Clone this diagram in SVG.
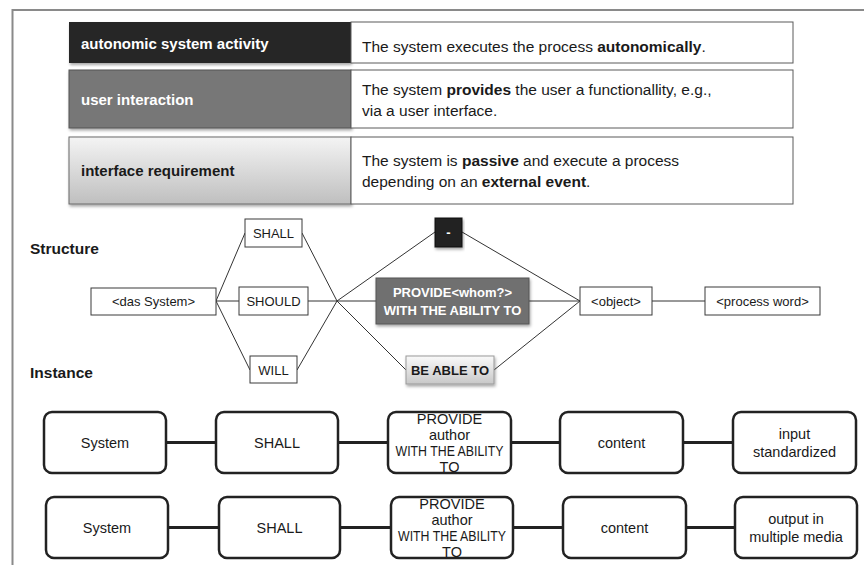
<svg xmlns="http://www.w3.org/2000/svg" width="864" height="565" viewBox="0 0 864 565">
<defs>
<linearGradient id="gLight" x1="0" y1="0" x2="0" y2="1">
<stop offset="0" stop-color="#f4f4f4"/><stop offset="1" stop-color="#bfbfbf"/>
</linearGradient>
<linearGradient id="gBtn" x1="0" y1="0" x2="0" y2="1">
<stop offset="0" stop-color="#fafafa"/><stop offset="1" stop-color="#c8c8c8"/>
</linearGradient>
<filter id="sh" x="-10%" y="-10%" width="120%" height="140%">
<feDropShadow dx="1" dy="2" stdDeviation="1.5" flood-color="#000" flood-opacity="0.35"/>
</filter>
</defs>
<style>
text{font-family:"Liberation Sans",Arial,sans-serif;fill:#1a1a1a}
.desc{font-size:15.5px}
.lab{font-size:15px;font-weight:bold}
.w{fill:#fff}
.cell{fill:#fff;stroke:#5a5a5a;stroke-width:1}
.sbox{fill:#fff;stroke:#3a3a3a;stroke-width:1}
.st{font-size:13px;text-anchor:middle}
.stb{font-size:13px;text-anchor:middle;font-weight:bold}
.hd{font-size:15.5px;font-weight:bold}
.ln{stroke:#333;stroke-width:1;fill:none}
.rb{fill:#fff;stroke:#222;stroke-width:2.5}
.bt{font-size:14.5px;text-anchor:middle}
.tk{stroke:#222;stroke-width:3;fill:none}
</style>
<path d="M12.5 565 V10 H864" fill="none" stroke="#8a8a8a" stroke-width="2"/>

<g id="table">
<g id="row-autonomic">
<rect x="69" y="22" width="282" height="41" fill="#262626" filter="url(#sh)"/>
<rect class="cell" x="351" y="22" width="442" height="41"/>
<text class="lab w" x="81" y="49">autonomic system activity</text>
<text class="desc" x="362" y="52">The system executes the process <tspan font-weight="bold">autonomically</tspan>.</text>
</g>
<g id="row-user">
<rect x="69" y="70" width="282" height="58" fill="#777" stroke="#555" filter="url(#sh)"/>
<rect class="cell" x="351" y="70" width="442" height="58"/>
<text class="lab w" x="81" y="105">user interaction</text>
<text class="desc" x="362" y="95">The system <tspan font-weight="bold">provides</tspan> the user a functionallity, e.g.,</text>
<text class="desc" x="362" y="116">via a user interface.</text>
</g>
<g id="row-interface">
<rect x="69" y="137" width="282" height="67" fill="url(#gLight)" stroke="#6a6a6a" filter="url(#sh)"/>
<rect class="cell" x="351" y="137" width="442" height="67"/>
<text class="lab" x="81" y="176">interface requirement</text>
<text class="desc" x="362" y="166">The system is <tspan font-weight="bold">passive</tspan> and execute a process</text>
<text class="desc" x="362" y="187">depending on an <tspan font-weight="bold">external event</tspan>.</text>
</g>
</g>

<text class="hd" x="30" y="254">Structure</text>
<text class="hd" x="30" y="378">Instance</text>

<g id="structure-connectors">
<line class="ln" x1="216" y1="301" x2="245" y2="233"/>
<line class="ln" x1="216" y1="301" x2="239" y2="301"/>
<line class="ln" x1="216" y1="301" x2="250" y2="370"/>
<line class="ln" x1="302" y1="233" x2="337" y2="301"/>
<line class="ln" x1="308" y1="301" x2="337" y2="301"/>
<line class="ln" x1="297" y1="370" x2="337" y2="301"/>
<line class="ln" x1="337" y1="301" x2="435" y2="232"/>
<line class="ln" x1="337" y1="301" x2="376" y2="301"/>
<line class="ln" x1="337" y1="301" x2="406" y2="370"/>
<line class="ln" x1="462" y1="232" x2="580" y2="301"/>
<line class="ln" x1="529" y1="301" x2="580" y2="301"/>
<line class="ln" x1="494" y1="370" x2="580" y2="301"/>
<line class="ln" x1="652" y1="301" x2="705" y2="301"/>
</g>

<g id="s-das-system"><rect class="sbox" x="91" y="288" width="125" height="27"/><text class="st" x="153.5" y="306">&lt;das System&gt;</text></g>
<g id="s-shall"><rect class="sbox" x="245" y="219" width="57" height="28"/><text class="st" x="273.5" y="238">SHALL</text></g>
<g id="s-should"><rect class="sbox" x="239" y="287" width="69" height="28"/><text class="st" x="273.5" y="306">SHOULD</text></g>
<g id="s-will"><rect class="sbox" x="250" y="356" width="47" height="27"/><text class="st" x="273.5" y="375">WILL</text></g>
<g id="s-none"><rect x="435" y="218" width="27" height="29" fill="#222" stroke="#111" filter="url(#sh)"/><text class="stb w" x="448.5" y="237">-</text></g>
<g id="s-provide"><rect x="376" y="278" width="153" height="46" fill="#707070" stroke="#555" filter="url(#sh)"/><text class="stb w" x="452.5" y="297">PROVIDE&lt;whom?&gt;</text><text class="stb w" x="452.5" y="315">WITH THE ABILITY TO</text></g>
<g id="s-able"><rect x="406" y="356" width="88" height="28" fill="url(#gBtn)" stroke="#999" filter="url(#sh)"/><text class="stb" x="450" y="375">BE ABLE TO</text></g>
<g id="s-object"><rect class="sbox" x="580" y="287" width="72" height="28"/><text class="st" x="616" y="306">&lt;object&gt;</text></g>
<g id="s-process"><rect class="sbox" x="705" y="287" width="115" height="28"/><text class="st" x="762.5" y="306">&lt;process word&gt;</text></g>

<g id="instance-connectors">
<line class="tk" x1="166" y1="442.5" x2="216" y2="442.5"/>
<line class="tk" x1="338" y1="442.5" x2="388" y2="442.5"/>
<line class="tk" x1="511" y1="442.5" x2="560" y2="442.5"/>
<line class="tk" x1="683" y1="442.5" x2="733" y2="442.5"/>
<line class="tk" x1="168" y1="527.5" x2="219" y2="527.5"/>
<line class="tk" x1="340" y1="527.5" x2="391" y2="527.5"/>
<line class="tk" x1="513" y1="527.5" x2="563" y2="527.5"/>
<line class="tk" x1="686" y1="527.5" x2="735" y2="527.5"/>
</g>

<g id="a-system"><rect class="rb" x="44" y="412" width="122" height="61" rx="8"/><text class="bt" x="105" y="447.5">System</text></g>
<g id="a-shall"><rect class="rb" x="216" y="412" width="122" height="61" rx="8"/><text class="bt" x="277" y="447.5">SHALL</text></g>
<g id="a-provide"><rect class="rb" x="388" y="412" width="123" height="61" rx="8"/>
<text class="bt" x="449.5" y="424">PROVIDE</text><text class="bt" x="449.5" y="440">author</text><text class="bt" x="449.5" y="456" textLength="108" lengthAdjust="spacingAndGlyphs">WITH THE ABILITY</text><text class="bt" x="449.5" y="472">TO</text></g>
<g id="a-content"><rect class="rb" x="560" y="412" width="123" height="61" rx="8"/><text class="bt" x="621.5" y="447.5">content</text></g>
<g id="a-input"><rect class="rb" x="733" y="412" width="123" height="61" rx="8"/><text class="bt" x="794.5" y="439">input</text><text class="bt" x="794.5" y="457">standardized</text></g>

<g id="b-system"><rect class="rb" x="46" y="497" width="122" height="61" rx="8"/><text class="bt" x="107" y="532.5">System</text></g>
<g id="b-shall"><rect class="rb" x="219" y="497" width="121" height="61" rx="8"/><text class="bt" x="279.5" y="532.5">SHALL</text></g>
<g id="b-provide"><rect class="rb" x="391" y="497" width="122" height="61" rx="8"/>
<text class="bt" x="452" y="509">PROVIDE</text><text class="bt" x="452" y="525">author</text><text class="bt" x="452" y="541" textLength="108" lengthAdjust="spacingAndGlyphs">WITH THE ABILITY</text><text class="bt" x="452" y="557">TO</text></g>
<g id="b-content"><rect class="rb" x="563" y="497" width="123" height="61" rx="8"/><text class="bt" x="624.5" y="532.5">content</text></g>
<g id="b-output"><rect class="rb" x="735" y="497" width="122" height="61" rx="8"/><text class="bt" x="796" y="524">output in</text><text class="bt" x="796" y="542">multiple media</text></g>
</svg>
